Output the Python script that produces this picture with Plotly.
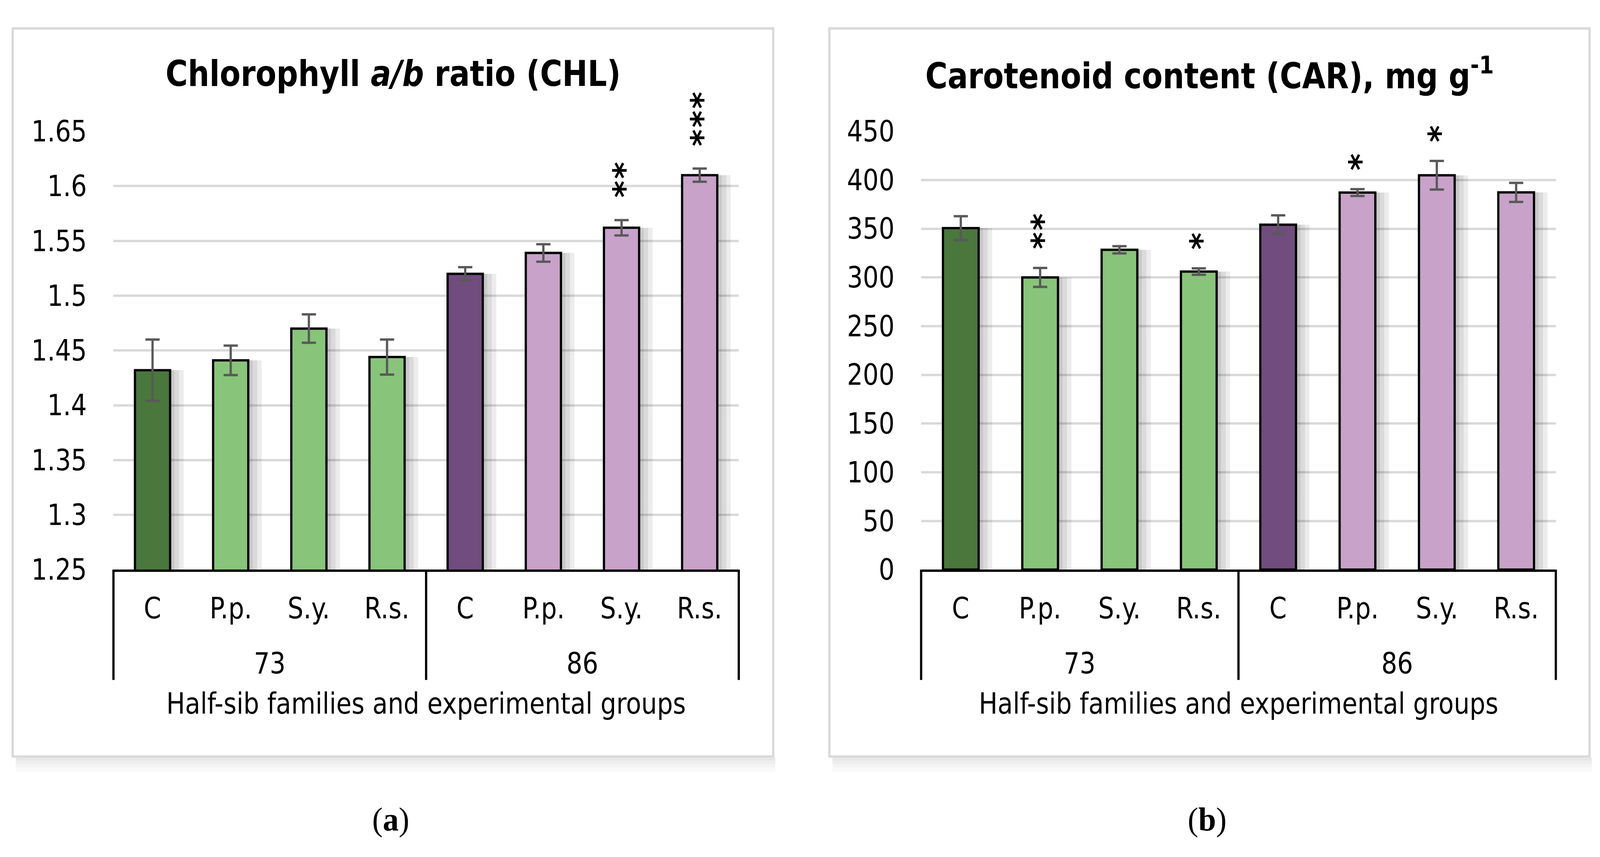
import plotly.graph_objects as go

# ---------------- data ----------------
families = ["73", "86"]
treatments = ["C", "P.p.", "S.y.", "R.s."]
categories = ["C", "P.p.", "S.y.", "R.s.", "C", "P.p.", "S.y.", "R.s."]
family_of_bar = ["73", "73", "73", "73", "86", "86", "86", "86"]

chl_mean = [1.432, 1.441, 1.470, 1.444, 1.520, 1.539, 1.562, 1.610]
chl_err = [0.028, 0.0135, 0.013, 0.016, 0.006, 0.008, 0.007, 0.006]
chl_sig = [0, 0, 0, 0, 0, 0, 2, 3]
chl_ticks = [1.25, 1.3, 1.35, 1.4, 1.45, 1.5, 1.55, 1.6, 1.65]
chl_ticklabels = ["1.25", "1.3", "1.35", "1.4", "1.45", "1.5", "1.55", "1.6", "1.65"]

car_mean = [350.6, 300.0, 328.4, 306.0, 354.1, 387.1, 404.9, 387.3]
car_err = [12.3, 9.7, 3.7, 3.3, 9.7, 3.5, 14.7, 9.8]
car_sig = [0, 2, 0, 1, 0, 1, 1, 0]
car_ticks = [0, 50, 100, 150, 200, 250, 300, 350, 400, 450]
car_ticklabels = [str(v) for v in car_ticks]

title_a = "Chlorophyll <i>a/b</i> ratio (CHL)"
title_b = "Carotenoid content (CAR), mg g<sup>-1</sup>"
axis_title = "Half-sib families and experimental groups"
captions = ["(<b>a</b>)", "(<b>b</b>)"]

# ---------------- styling ----------------
W, H = 4273, 2194
DARK_GREEN = "#4a773c"
LIGHT_GREEN = "#89c47b"
DARK_PURPLE = "#714c7e"
LIGHT_PURPLE = "#c8a2c9"
bar_colors = [DARK_GREEN, LIGHT_GREEN, LIGHT_GREEN, LIGHT_GREEN,
              DARK_PURPLE, LIGHT_PURPLE, LIGHT_PURPLE, LIGHT_PURPLE]
FONT = "DejaVu Sans Condensed, Liberation Sans, Arial, sans-serif"
AST_FONT = "DejaVu Sans, sans-serif"
AST_SIZE = 84
FS = 74
TITLE_FS = 90
GRID = "#d9d9d9"
BAR_W = 0.45

def px_x(p):
    return p / W

def px_y(p):
    return 1 - p / H

plot_top, plot_bot = 305.2, 1473.0
panels = [
    dict(xd=(303, 1973), frame=(34, 2065), mean=chl_mean, err=chl_err, sig=chl_sig,
         ticks=chl_ticks, labels=chl_ticklabels, rng=[1.25, 1.65], title=title_a,
         gap=79, cap=captions[0]),
    dict(xd=(2460, 4155), frame=(2215, 4245), mean=car_mean, err=car_err, sig=car_sig,
         ticks=car_ticks, labels=car_ticklabels, rng=[0, 450], title=title_b,
         gap=70, cap=captions[1]),
]

fig = go.Figure()
xs = list(range(len(categories)))
shapes = []
annotations = []
frame_top, frame_bot = 31, 1971

for k, p in enumerate(panels):
    sfx = "" if k == 0 else str(k + 1)
    xa, ya = "x" + sfx, "y" + sfx
    slot_px = (p["xd"][1] - p["xd"][0]) / len(categories)
    # soft shadow to the right of the bars
    for s in (12, 24, 36):
        fig.add_trace(go.Bar(
            x=xs, y=p["mean"], width=BAR_W, offset=-BAR_W / 2 + s / slot_px,
            marker=dict(color="rgba(0,0,0,0.075)", line=dict(width=0)),
            hoverinfo="skip", showlegend=False, xaxis=xa, yaxis=ya))
    fig.add_trace(go.Bar(
        x=xs, y=p["mean"], width=BAR_W,
        marker=dict(color=bar_colors, line=dict(color="black", width=6)),
        error_y=dict(type="data", array=p["err"], color="#595959", thickness=6, width=19),
        showlegend=False, xaxis=xa, yaxis=ya))

    fig.update_layout(**{
        "xaxis" + sfx: dict(range=[-0.5, len(categories) - 0.5], showticklabels=False,
                            showgrid=False, zeroline=False, showline=True,
                            linecolor="black", linewidth=6, ticks="",
                            anchor=ya, domain=[px_x(p["xd"][0]), px_x(p["xd"][1])]),
        "yaxis" + sfx: dict(range=p["rng"], tickvals=p["ticks"], ticktext=p["labels"],
                            showgrid=True, gridcolor=GRID, gridwidth=6, zeroline=False,
                            showline=False, ticks="", ticklabelstandoff=70,
                            tickfont=dict(family=FONT, size=FS, color="black"),
                            domain=[px_y(plot_bot), px_y(plot_top)], anchor=xa),
    })

    dom_h = plot_bot - plot_top
    n = len(categories)
    # group boundaries of the multi-level category axis
    bounds = [0]
    for i in range(1, n):
        if family_of_bar[i] != family_of_bar[i - 1]:
            bounds.append(i)
    bounds.append(n)
    for b in bounds:
        shapes.append(dict(type="line", xref=xa + " domain", yref=ya + " domain",
                           x0=b / n, x1=b / n, y0=0, y1=-(1767 - plot_bot) / dom_h,
                           line=dict(color="black", width=6)))
    for i, c in enumerate(categories):
        annotations.append(dict(x=i, y=-(1576 - plot_bot) / dom_h, xref=xa, yref=ya + " domain",
                                text=c, showarrow=False, xanchor="center", yanchor="middle",
                                font=dict(family=FONT, size=FS, color="black")))
    for g in range(len(bounds) - 1):
        annotations.append(dict(x=(bounds[g] + bounds[g + 1] - 1) / 2,
                                y=-(1723 - plot_bot) / dom_h, xref=xa, yref=ya + " domain",
                                text=family_of_bar[bounds[g]], showarrow=False,
                                xanchor="center", yanchor="middle",
                                font=dict(family=FONT, size=FS, color="black")))
    annotations.append(dict(x=0.5, y=-(1830 - plot_bot) / dom_h, xref=xa + " domain",
                            yref=ya + " domain", text=axis_title, showarrow=False,
                            xanchor="center", yanchor="middle",
                            font=dict(family=FONT, size=FS, color="black")))
    # significance asterisks (rotated so one arm is horizontal, as in the original)
    for i, nsig in enumerate(p["sig"]):
        for j in range(nsig):
            annotations.append(dict(x=i, y=p["mean"][i] + p["err"][i], xref=xa, yref=ya,
                                    text="<b>*</b>", showarrow=False, textangle=90,
                                    xanchor="center", yanchor="middle",
                                    xshift=-0.234 * AST_SIZE,
                                    yshift=p["gap"] + 48 * j,
                                    font=dict(family=AST_FONT, size=AST_SIZE, color="black")))
    fx0, fx1 = p["frame"]
    annotations.append(dict(x=px_x((fx0 + fx1) / 2), y=px_y(151), xref="paper", yref="paper",
                            text=p["title"], showarrow=False, xanchor="center", yanchor="middle",
                            font=dict(family=FONT, size=TITLE_FS, color="black", weight="bold")))
    annotations.append(dict(x=px_x((fx0 + fx1) / 2 - 6), y=px_y(2138), xref="paper", yref="paper",
                            text=p["cap"], showarrow=False, xanchor="center", yanchor="middle",
                            font=dict(family="Liberation Serif, Times New Roman, serif",
                                      size=85, color="black")))
    # soft shadow under the panel frame
    for d in (8, 16, 26, 38):
        shapes.append(dict(type="rect", xref="paper", yref="paper", layer="below",
                           x0=px_x(fx0 + 8), x1=px_x(fx1 + 6),
                           y0=px_y(frame_bot + 3), y1=px_y(frame_bot + 3 + d),
                           fillcolor="rgba(0,0,0,0.022)", line=dict(width=0)))
    shapes.append(dict(type="rect", xref="paper", yref="paper", layer="below",
                       x0=px_x(fx0), x1=px_x(fx1), y0=px_y(frame_bot), y1=px_y(frame_top),
                       fillcolor="white", line=dict(color=GRID, width=6)))

fig.update_layout(
    width=W, height=H, margin=dict(l=0, r=0, t=0, b=0),
    paper_bgcolor="white", plot_bgcolor="rgba(0,0,0,0)",
    barmode="overlay", showlegend=False,
    shapes=shapes, annotations=annotations,
    font=dict(family=FONT, size=FS, color="black"),
)

# fit the fixed-size figure exactly into the viewport the browser really has
post = """
document.body.style.margin='0';
document.documentElement.style.overflow='hidden';
document.body.style.overflow='hidden';
var gd=document.getElementById('{plot_id}');
var sx=window.innerWidth/%d, sy=window.innerHeight/%d;
gd.style.position='fixed';
gd.style.top='0px';
gd.style.left='0px';
gd.style.transformOrigin='0 0';
gd.style.transform='scale('+sx+','+sy+')';
""" % (W, H)
fig.write_html("out.html", config={"displayModeBar": False}, post_script=post)
